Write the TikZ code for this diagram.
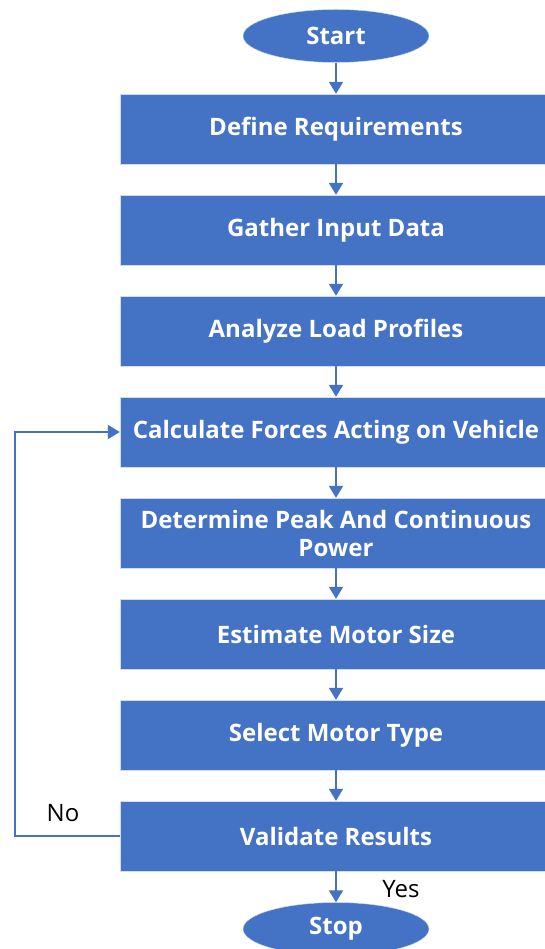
\documentclass[tikz,border=0pt]{standalone}
\usepackage{fontspec}
\setmainfont{Open Sans}
\usetikzlibrary{shapes.geometric,arrows.meta}
\definecolor{flowblue}{HTML}{4472C4}

\begin{document}
\begin{tikzpicture}[x=1pt,y=-1pt,
  stepbox/.style={rectangle,fill=flowblue,draw=white!75!flowblue,thin,
    minimum width=432pt,minimum height=70pt,inner sep=0pt,align=center,
    text=white,font=\fontsize{24}{28}\selectfont\bfseries},
  termbox/.style={ellipse,fill=flowblue,draw=white!75!flowblue,thin,
    minimum width=186pt,minimum height=53pt,inner sep=0pt,
    text=white,font=\fontsize{24}{28}\selectfont\bfseries},
  flow/.style={draw=flowblue,line width=2pt,-{Triangle[width=14pt,length=12pt]}},
  lbl/.style={text=black,font=\fontsize{24}{28}\selectfont}]
\useasboundingbox (0,0) rectangle (544,949);

\node[termbox] (start) at (336,36) {Start};
\node[stepbox] (req) at (336,129) {Define Requirements};
\node[stepbox] (data) at (336,230) {Gather Input Data};
\node[stepbox] (load) at (336,331) {Analyze Load Profiles};
\node[stepbox] (calc) at (336,432) {Calculate Forces Acting on Vehicle};
\node[stepbox] (power) at (336,533) {Determine Peak And Continuous\\Power};
\node[stepbox] (size) at (336,634) {Estimate Motor Size};
\node[stepbox] (type) at (336,735) {Select Motor Type};
\node[stepbox] (val) at (336,836) {Validate Results};
\node[termbox] (stop) at (336,929) {Stop};

% main chain
\foreach \a/\b in {start/req,req/data,data/load,load/calc,calc/power,power/size,size/type,type/val,val/stop}
  \draw[flow] (\a) -- (\b);

% loop back when the check fails
\coordinate (back) at (15,836);
\draw[flow] (val.west) -- (back) |- (calc.west);
\node[lbl] (no) at (63,813) {No};
\node[lbl] (yes) at (401,889) {Yes};
\end{tikzpicture}
\end{document}
